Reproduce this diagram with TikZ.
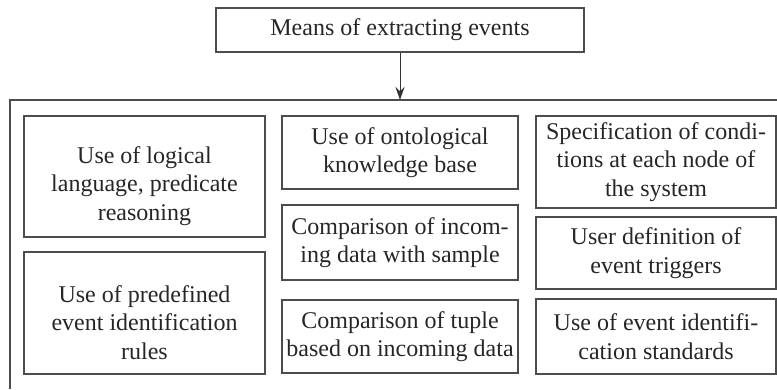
\documentclass[tikz,border=0pt]{standalone}
\usepackage{fontspec}
\setmainfont{Liberation Serif}
\usetikzlibrary{arrows.meta}
\newcommand{\lowgap}{\rule{0pt}{36pt}}
\tikzset{
	meanbox/.style={draw=black!70, line width=1.2pt, text=black!85, align=center,
		inner sep=0pt, font=\fontsize{24}{28.5}\selectfont},
}
\begin{document}
\begin{tikzpicture}[x=1pt, y=-1pt]
	\useasboundingbox (0,0) rectangle (777,389);
	% top box
	\node[meanbox, minimum width=368pt, minimum height=44pt] (means) at (400,30) {Means of extracting events};
	% frame (cut at the right and at the bottom)
	\coordinate (fl) at (10,100);
	\coordinate (fr) at (777,100);
	\coordinate (fb) at (10,389);
	\coordinate (fa) at (400,100);
	\draw[black!70, line width=1.2pt] (fr) -- (fl) -- (fb);
	\draw[black!80, line width=1pt, -{Stealth[length=13pt, width=9pt]}] (means.south) -- (fa);
	% left column
	\node[meanbox, minimum width=241pt, minimum height=121pt] (logic) at (144.5,176.5) {\lowgap Use of logical\\language, predicate\\reasoning};
	\node[meanbox, minimum width=241pt, minimum height=122pt] (rules) at (144.5,313) {\lowgap Use of predefined\\event identification\\rules};
	% middle column
	\node[meanbox, minimum width=236pt, minimum height=73pt] (onto) at (400,152.5) {Use of ontological\\knowledge base};
	\node[meanbox, minimum width=236pt, minimum height=75pt] (sample) at (400,242.5) {Comparison of incom-\\ing data with sample};
	\node[meanbox, minimum width=236pt, minimum height=73pt] (tuple) at (400,336.5) {Comparison of tuple\\based on incoming data};
	% right column
	\node[meanbox, minimum width=240pt, minimum height=92pt] (cond) at (656,162) {Specification of condi-\\tions at each node of\\the system};
	\node[meanbox, minimum width=240pt, minimum height=72pt] (trig) at (656,253) {User definition of\\event triggers};
	\node[meanbox, minimum width=240pt, minimum height=75pt] (std) at (656,336.5) {Use of event identifi-\\cation standards};
\end{tikzpicture}
\end{document}
